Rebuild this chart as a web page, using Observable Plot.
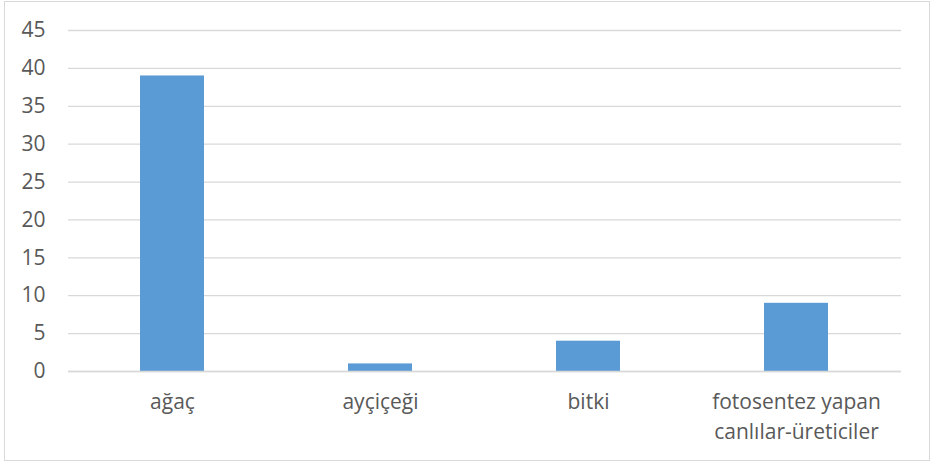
<!DOCTYPE html>
<html>
<head>
<meta charset="utf-8">
<script src="https://cdn.jsdelivr.net/npm/d3@7"></script>
<script src="https://cdn.jsdelivr.net/npm/@observablehq/plot@0.6"></script>
<style>
  html, body { margin: 0; padding: 0; background: #fff; }
  #chart { position: relative; width: 939px; height: 464px; }
  #border { position: absolute; left: 4px; top: 1px; width: 926px; height: 460px; border: 1px solid #d9d9d9; box-sizing: border-box; pointer-events: none; }
  #chart svg { position: absolute; left: 0; top: 0; }
</style>
</head>
<body>
<div id="chart"><div id="border"></div></div>
<script>
// Responses per answer category
const categories = ["ağaç", "ayçiçeği", "bitki", "fotosentez yapan\ncanlılar-üreticiler"];
const counts = [39, 1, 4, 9];
const yTicks = [0, 5, 10, 15, 20, 25, 30, 35, 40, 45];

const rows = categories.map((c, i) => ({category: c, count: counts[i]}));

const font = "'Open Sans', sans-serif";
const textColor = "#595959";

const chart = Plot.plot({
  width: 939,
  height: 464,
  marginLeft: 68,
  marginRight: 38,
  marginTop: 30,
  marginBottom: 93,
  style: {fontFamily: font, fontSize: "21px", color: textColor, background: "transparent"},
  x: {domain: categories, paddingInner: 0.69, paddingOuter: 0.345, label: null},
  y: {domain: [0, 45], label: null},
  marks: [
    Plot.ruleY(yTicks, {stroke: "#d9d9d9", strokeWidth: 1.3}),
    Plot.barY(rows, {x: "category", y: "count", fill: "#5b9bd5"}),
    Plot.ruleY([0], {stroke: "#d9d9d9", strokeWidth: 1.5}),
    Plot.axisY(yTicks, {tickSize: 0, tickPadding: 23, fill: textColor, fontSize: 21, label: null}),
    Plot.axisX({tickSize: 0, tickPadding: 16, fill: textColor, fontSize: 21, lineHeight: 1.43, label: null})
  ]
});

document.getElementById("chart").appendChild(chart);
</script>
</body>
</html>
